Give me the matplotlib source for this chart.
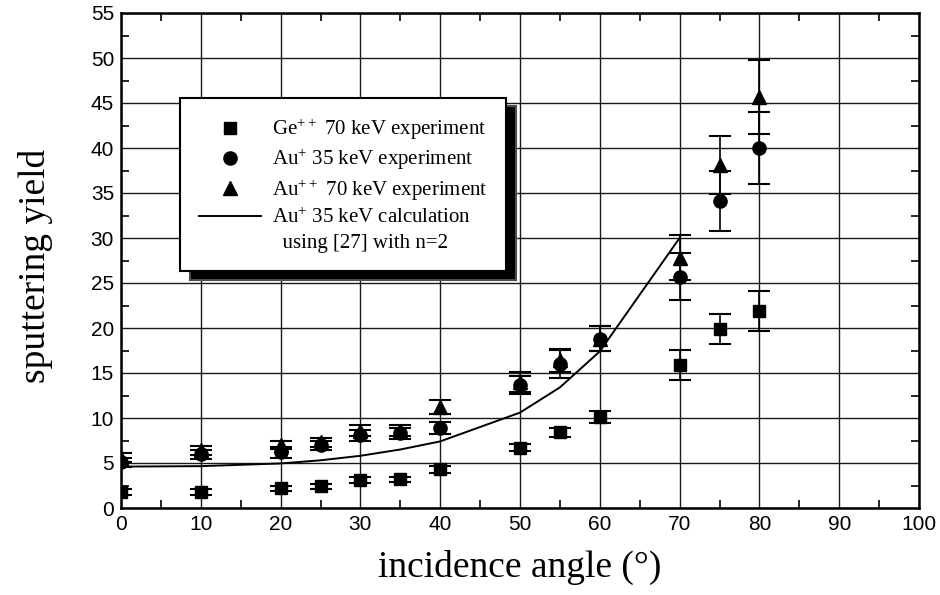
import numpy as np
import matplotlib
matplotlib.use('Agg')
import matplotlib.pyplot as plt
from matplotlib.lines import Line2D
from matplotlib.ticker import MultipleLocator

plt.rcParams['mathtext.default'] = 'regular'

# incidence angles (deg) of the measurements
angle = [0, 10, 20, 25, 30, 35, 40, 50, 55, 60, 70, 75, 80]

ge70 = [1.8, 1.8, 2.2, 2.4, 3.1, 3.2, 4.3, 6.7, 8.4, 10.1, 15.9, 19.9, 21.9]
ge70_err = [0.3, 0.3, 0.3, 0.3, 0.3, 0.3, 0.4, 0.4, 0.5, 0.7, 1.7, 1.7, 2.2]

au35 = [5.1, 6.0, 6.2, 7.0, 8.1, 8.3, 8.9, 13.7, 16.0, 18.8, 25.7, 34.1, 40.0]
au35_err = [0.5, 0.5, 0.6, 0.5, 0.6, 0.6, 0.7, 1.0, 1.6, 1.4, 2.6, 3.3, 4.0]

au70 = [5.6, 6.4, 7.0, 7.3, 8.6, 8.6, 11.2, 14.0, 16.4, 18.8, 27.8, 38.1, 45.7]
au70_err = [0.5, 0.5, 0.4, 0.5, 0.6, 0.6, 0.8, 1.1, 1.3, 1.4, 2.5, 3.2, 4.1]

# calculation curve for Au+ 35 keV
calc_angle = [0, 10, 20, 25, 30, 35, 40, 50, 55, 60, 70]
calc_yield = [4.6, 4.65, 4.95, 5.3, 5.8, 6.5, 7.4, 10.6, 13.4, 17.4, 30.0]

fig = plt.figure(figsize=(9.4, 5.95), dpi=100)
ax = fig.add_axes([121/940, 1 - 508/595, 798/940, 495/595])

eb_kw = dict(color='black', ecolor='black', elinewidth=1.2, capsize=8,
             capthick=1.5, linestyle='none', zorder=3)
sq = ax.errorbar(angle, ge70, yerr=ge70_err, fmt='s', ms=9, **eb_kw)
ci = ax.errorbar(angle, au35, yerr=au35_err, fmt='o', ms=9.5, **eb_kw)
tr = ax.errorbar(angle, au70, yerr=au70_err, fmt='^', ms=10, **eb_kw)
calc, = ax.plot(calc_angle, calc_yield, color='black', lw=1.4, zorder=2)

ax.set_xlim(0, 100)
ax.set_ylim(0, 55)
ax.xaxis.set_major_locator(MultipleLocator(10))
ax.xaxis.set_minor_locator(MultipleLocator(5))
ax.yaxis.set_major_locator(MultipleLocator(5))
ax.yaxis.set_minor_locator(MultipleLocator(2.5))
ax.grid(True, which='major', color='#1a1a1a', lw=1.0)
ax.set_axisbelow(True)
ax.tick_params(which='major', length=0, pad=5, labelsize=15)
ax.tick_params(which='minor', direction='in', length=6, width=1.2,
               top=True, right=True)
for lab in ax.get_xticklabels() + ax.get_yticklabels():
    lab.set_family('Liberation Sans')
for sp in ax.spines.values():
    sp.set_linewidth(1.8)

ax.set_xlabel('incidence angle (°)', family='Liberation Serif', fontsize=27)
ax.set_ylabel('sputtering yield', family='Liberation Serif', fontsize=27)
ax.xaxis.set_label_coords(0.5, -0.085)
ax.yaxis.set_label_coords(-0.085, 0.49)

handles = [sq[0], ci[0], tr[0], calc, Line2D([], [], color='none')]
labels = ['Ge$^{++}$ 70 keV experiment',
          'Au$^{+}$ 35 keV experiment',
          'Au$^{++}$ 70 keV experiment',
          'Au$^{+}$ 35 keV calculation',
          '  using [27] with n=2']
leg = ax.legend(handles, labels, loc='upper left', bbox_to_anchor=(0.074, 0.828),
                borderaxespad=0, fancybox=False, framealpha=1, edgecolor='black',
                prop={'family': 'Liberation Serif', 'size': 15},
                handlelength=3, handletextpad=0.5, borderpad=0.9, labelspacing=0.25,
                shadow={'ox': 7, 'oy': -6, 'facecolor': 'black', 'alpha': 1})
leg.get_frame().set_linewidth(1.5)

fig.savefig('out.png', dpi=100)
